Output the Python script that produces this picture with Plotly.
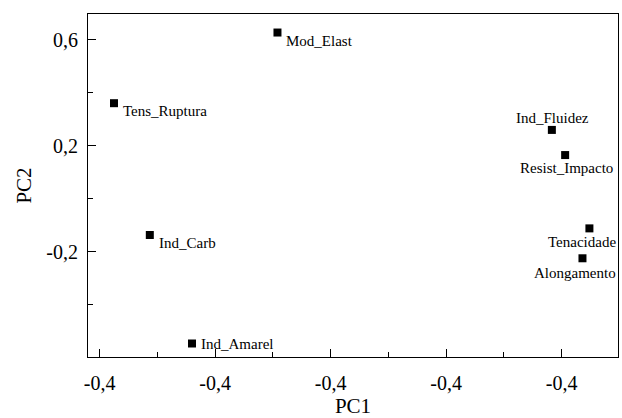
import plotly.graph_objects as go

# PCA loadings
variables = ["Mod_Elast", "Tens_Ruptura", "Ind_Fluidez", "Resist_Impacto",
             "Ind_Carb", "Ind_Amarel", "Tenacidade", "Alongamento"]
pc1 = [-0.092, -0.375, 0.383, 0.406, -0.313, -0.240, 0.448, 0.436]
pc2 = [0.628, 0.361, 0.260, 0.165, -0.137, -0.547, -0.112, -0.225]

x_ticks = [-0.4, -0.2, 0.0, 0.2, 0.4]
x_ticktext = ["-0,4", "-0,4", "-0,4", "-0,4", "-0,4"]
y_ticks = [0.6, 0.2, -0.2]
y_ticktext = ["0,6", "0,2", "-0,2"]

# label placement (anchor, xshift, yshift) per variable
label_pos = {
    "Mod_Elast":      ("left", 7, -8),
    "Tens_Ruptura":   ("left", 7, -8),
    "Ind_Fluidez":    ("center", 1, 12),
    "Resist_Impacto": ("center", 1, -13),
    "Ind_Carb":       ("left", 7, -8),
    "Ind_Amarel":     ("left", 7, 0),
    "Tenacidade":     ("center", -7, -14),
    "Alongamento":    ("center", -7, -15),
}

SERIF = "Liberation Serif"

fig = go.Figure(go.Scatter(
    x=pc1,
    y=pc2,
    mode="markers",
    marker=dict(symbol="square", size=8, color="black"),
    hoverinfo="skip",
))

for name, x, y in zip(variables, pc1, pc2):
    anchor, dx, dy = label_pos[name]
    fig.add_annotation(
        x=x, y=y, text=name, showarrow=False,
        xanchor=anchor, yanchor="middle",
        xshift=dx, yshift=dy,
        font=dict(family=SERIF, size=15, color="black"),
    )

axis_common = dict(
    showline=True, linecolor="black", linewidth=1, mirror=True,
    showgrid=False, zeroline=False,
    ticks="inside", ticklen=8, tickcolor="black", tickwidth=1,
    tickfont=dict(family=SERIF, size=20, color="black"),
)

fig.update_layout(
    width=622,
    height=418,
    paper_bgcolor="white",
    plot_bgcolor="white",
    margin=dict(l=88, r=4, t=14, b=61),
    showlegend=False,
    xaxis=dict(
        axis_common,
        range=[-0.42, 0.4975],
        tickmode="array", tickvals=x_ticks, ticktext=x_ticktext,
        ticklabelstandoff=8,
        minor=dict(ticks="inside", ticklen=5, tickcolor="black",
                   tickvals=[-0.3, -0.1, 0.1, 0.3]),
        title=dict(text="PC1", font=dict(family=SERIF, size=21, color="black"),
                   standoff=3),
    ),
    yaxis=dict(
        axis_common,
        range=[-0.598, 0.698],
        tickmode="array", tickvals=y_ticks, ticktext=y_ticktext,
        ticklabelstandoff=5,
        minor=dict(ticks="inside", ticklen=5, tickcolor="black",
                   tickvals=[0.4, 0.0, -0.4]),
        title=dict(text="PC2", font=dict(family=SERIF, size=21, color="black"),
                   standoff=8),
    ),
)

# page has a default 8px body margin; drop it so the figure sits at 0,0
fig.write_html("out.html", config={"displayModeBar": False},
               post_script="document.body.style.margin='0';")
